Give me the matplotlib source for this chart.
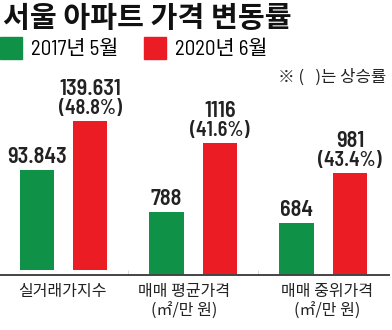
import matplotlib
matplotlib.use("Agg")
import matplotlib.pyplot as plt
from matplotlib.patches import Patch

plt.rcParams['font.family'] = ['Noto Sans CJK KR', 'DejaVu Sans']

# data
categories = ['실거래가지수', '매매 평균가격\n(㎡/만 원)', '매매 중위가격\n(㎡/만 원)']
series_names = ['2017년 5월', '2020년 6월']
values_2017 = [93.843, 788, 684]
values_2020 = [139.631, 1116, 981]
value_labels_2017 = ['93.843', '788', '684']
value_labels_2020 = ['139.631', '1116', '981']
rise_labels = ['(48.8%)', '(41.6%)', '(43.4%)']

GREEN = '#0f9147'
RED = '#ec1c24'
NUM_FONT = ['Barlow Semi Condensed', 'Noto Sans CJK KR']

W, H = 392, 330
fig = plt.figure(figsize=(W / 100, H / 100), dpi=100)

# each group gets its own y range
ylims = [(-5, 197), (490, 1509), (375, 1655)]
panels = [(0, 129), (129, 130), (259, 130)]
label_shift = [-0.03, -0.17, 0.07]

for i in range(3):
    x0, w = panels[i]
    ax = fig.add_axes([x0 / W, 55 / H, w / W, 215 / H])
    ax.set_xlim(-0.7, 1.73)
    ax.set_ylim(*ylims[i])
    ax.bar([0], [values_2017[i]], width=0.645, color=GREEN)
    ax.bar([1], [values_2020[i]], width=0.645, color=RED)

    ax.annotate(value_labels_2017[i], (0, values_2017[i]), xytext=(0, 2),
                textcoords='offset points', ha='center', va='bottom',
                fontsize=16, fontweight=600, family=NUM_FONT, color='#222222')
    ax.annotate(rise_labels[i], (1, values_2020[i]), xytext=(0, 2),
                textcoords='offset points', ha='center', va='bottom',
                fontsize=14.5, fontweight=600, family=NUM_FONT, color='#222222')
    ax.annotate(value_labels_2020[i], (1, values_2020[i]), xytext=(0, 16),
                textcoords='offset points', ha='center', va='bottom',
                fontsize=16, fontweight=600, family=NUM_FONT, color='#222222')

    for s in ['top', 'left', 'right']:
        ax.spines[s].set_visible(False)
    ax.spines['bottom'].set_color('#444444')
    ax.spines['bottom'].set_linewidth(1.4)
    ax.set_yticks([])
    if i < 2:
        ax.set_xticks([1.73])
        ax.tick_params(axis='x', direction='in', length=3.5, width=1,
                       color='#444444', labelbottom=False)
    else:
        ax.set_xticks([])

    ax.annotate(categories[i], (0.5 + label_shift[i], 0), xycoords=('data', 'axes fraction'),
                xytext=(0, -6), textcoords='offset points', ha='center', va='top',
                fontsize=11.5, color='#222222', linespacing=1.2, annotation_clip=False)

fig.text(3 / W, 1 - 3 / H, '서울 아파트 가격 변동률', ha='left', va='top',
         fontsize=21, fontweight='bold', color='#111111')

handles = [Patch(color=GREEN), Patch(color=RED)]
fig.legend(handles, series_names, loc='upper left', bbox_to_anchor=(0, 1 - 37 / H),
           ncol=2, frameon=False, borderpad=0, borderaxespad=0,
           handlelength=1.05, handleheight=1.25, handletextpad=0.45, columnspacing=1.2,
           prop={'family': NUM_FONT, 'size': 15})

fig.text(386 / W, 1 - 77 / H, '※ (   )는 상승률', ha='right', va='center',
         fontsize=12, color='#222222')

fig.savefig('out.png', dpi=100)
